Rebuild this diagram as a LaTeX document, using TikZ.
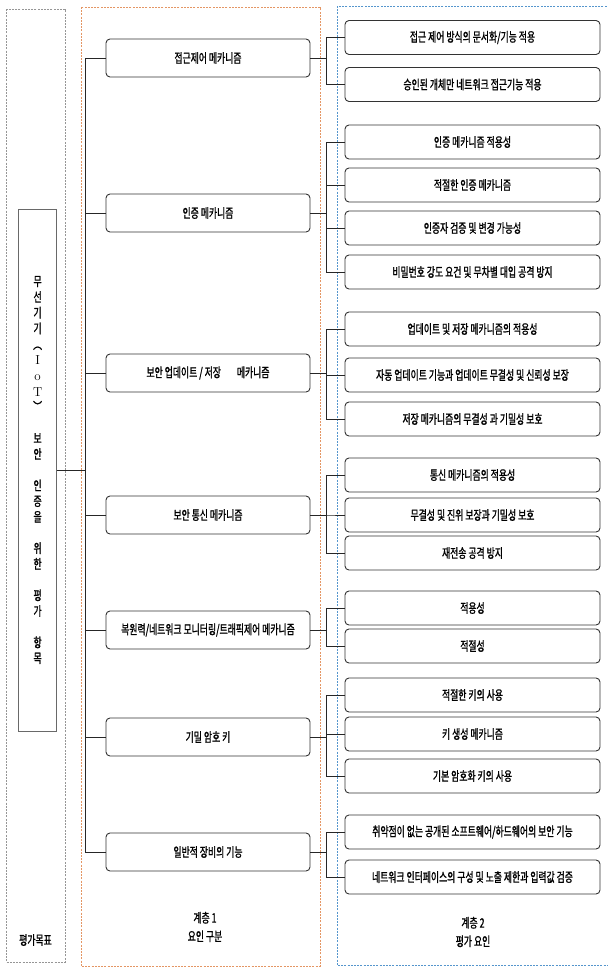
\documentclass[tikz,border=0pt]{standalone}
\usepackage{fontspec}
\newfontfamily\kr[FakeStretch=0.68, FakeBold=1.2]{Noto Sans CJK KR}
\definecolor{goalgray}{RGB}{150,150,150}
\definecolor{tierone}{RGB}{228,150,100}
\definecolor{tiertwo}{RGB}{85,150,205}
\tikzset{
  factorbox/.style={draw=black!80, line width=0.9pt, rounded corners=4pt, minimum width=204pt, minimum height=38pt, inner sep=0pt, font=\kr\fontsize{13}{15}\selectfont},
  itembox/.style={factorbox, minimum width=255pt, minimum height=34pt},
  link/.style={draw=black!85, line width=0.7pt},
  tierframe/.style={dash pattern=on 2pt off 1.2pt, line width=0.6pt},
  tierlabel/.style={align=center, font=\kr\fontsize{13}{18.5}\selectfont},
}
\begin{document}
\begin{tikzpicture}[x=1pt, y=-1pt]
  \path[use as bounding box, clip] (0,0) rectangle (608,967);

  \newcommand\Lx{208}
  \newcommand\Rx{472.5}

  %% frames
  \draw[tierframe, goalgray] (6,9) rectangle (65,962);
  \draw[tierframe, tierone] (81,7) rectangle (320,966);
  \draw[tierframe, tiertwo] (337,6) rectangle (620,965);

  %% goal
  \node[draw=goalgray!70!black, line width=0.8pt, minimum width=38pt, minimum height=522pt, inner sep=0pt, align=center, font=\kr\fontsize{13}{15.7}\selectfont] (goal) at (37.6,470)
    {무\\선\\기\\기\\︵\\{\rmfamily I}\\{\rmfamily o}\\{\rmfamily T}\\︶\\[15.7pt]보\\안\\[15.7pt]인\\증\\을\\[15.7pt]위\\한\\[15.7pt]평\\가\\[15.7pt]항\\목};

  %% tier 1
  \node[factorbox] (acc) at (\Lx,58) {접근제어 메카니즘};
  \node[factorbox] (aut) at (\Lx,213) {인증 메카니즘};
  \node[factorbox] (upd) at (\Lx,373) {보안 업데이트 / 저장\hspace{16pt}메카니즘};
  \node[factorbox] (com) at (\Lx,515) {보안 통신 메카니즘};
  \node[factorbox] (res) at (\Lx,630) {복원력/네트워크 모니터링/트래픽제어 메카니즘};
  \node[factorbox] (key) at (\Lx,737) {기밀 암호 키};
  \node[factorbox] (gen) at (\Lx,852) {일반적 장비의 기능};

  %% tier 2
  \node[itembox] (acc1) at (\Rx,37.5) {접근 제어 방식의 문서화/기능 적용};
  \node[itembox] (acc2) at (\Rx,84.5) {승인된 개체만 네트워크 접근기능 적용};
  \node[itembox] (aut1) at (\Rx,142) {인증 메카니즘 적용성};
  \node[itembox] (aut2) at (\Rx,185) {적절한 인증 메카니즘};
  \node[itembox] (aut3) at (\Rx,228) {인증자 검증 및 변경 가능성};
  \node[itembox] (aut4) at (\Rx,272) {비밀번호 강도 요건 및 무차별 대입 공격 방지};
  \node[itembox] (upd1) at (\Rx,329) {업데이트 및 저장 메카니즘의 적용성};
  \node[itembox] (upd2) at (\Rx,375) {자동 업데이트 기능과 업데이트 무결성 및 신뢰성 보장};
  \node[itembox] (upd3) at (\Rx,419) {저장 메카니즘의 무결성 과 기밀성 보호};
  \node[itembox] (com1) at (\Rx,475) {통신 메카니즘의 적용성};
  \node[itembox] (com2) at (\Rx,515) {무결성 및 진위 보장과 기밀성 보호};
  \node[itembox] (com3) at (\Rx,553) {재전송 공격 방지};
  \node[itembox] (res1) at (\Rx,608) {적용성};
  \node[itembox] (res2) at (\Rx,646) {적절성};
  \node[itembox] (key1) at (\Rx,695) {적절한 키의 사용};
  \node[itembox] (key2) at (\Rx,734) {키 생성 메카니즘};
  \node[itembox] (key3) at (\Rx,776) {기본 암호화 키의 사용};
  \node[itembox] (gen1) at (\Rx,832) {취약점이 없는 공개된 소프트웨어/하드웨어의 보안 기능};
  \node[itembox] (gen2) at (\Rx,877) {네트워크 인터페이스의 구성 및 노출 제한과 입력값 검증};

  %% labels
  \node[tierlabel] (goaltag) at (35.5,940) {평가목표};
  \node[tierlabel] (tieronetag) at (205,927) {계층 1\\요인 구분};
  \node[tierlabel] (tiertwotag) at (473,932) {계층 2\\평가 요인};

  %% trunk and brackets
  \coordinate (tk) at (85,0);
  \coordinate (br) at (326,0);
  \draw[link] (goal.east) -- (goal.east -| tk); % goal -> trunk
  \draw[link] (acc.west -| tk) -- (gen.west -| tk);
  \foreach \f in {acc,aut,upd,com,res,key,gen}
    \draw[link] (\f.west) -- (\f.west -| tk);
  \foreach \f/\i in {acc/acc1, acc/acc2, aut/aut1, aut/aut2, aut/aut3, aut/aut4,
                     upd/upd1, upd/upd2, upd/upd3, com/com1, com/com2, com/com3,
                     res/res1, res/res2, key/key1, key/key2, key/key3, gen/gen1, gen/gen2}
    \draw[link] (\f.east) -- (\f.east -| br) |- (\i.west);
\end{tikzpicture}
\end{document}
